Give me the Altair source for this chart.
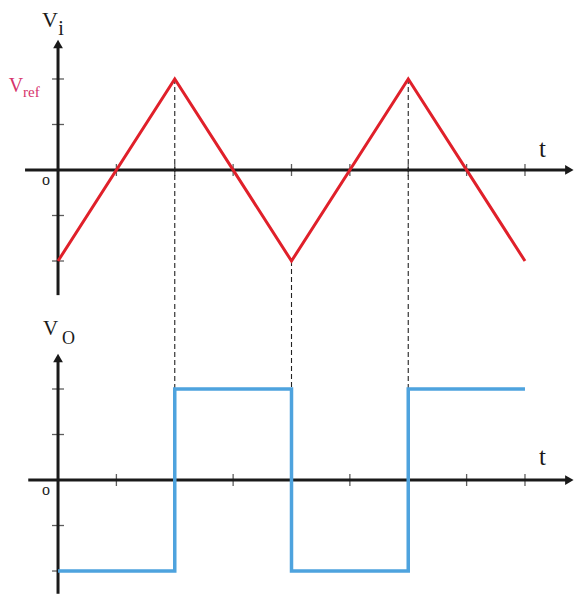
import altair as alt
import pandas as pd

# ---- data ----
t_knots = [0, 2, 4, 6, 8]
vi_knots = [-2, 2, -2, 2, -2]          # triangular input v_i
vo_levels = [-2, 2, -2, 2, 2]          # comparator output v_o (step-after)
tick_t = [1, 2, 3, 4, 5, 6, 7, 8]
tick_v = [-2, -1, 1, 2]
switch_t = [2, 4, 6]
switch_vi = [2, -2, 2]
switch_vo = [2, -2, 2]

RED = "#e0202a"
BLUE = "#4ea3de"
PINK = "#d6336c"
INK = "#1a1a1a"
SERIF = "Liberation Serif"

W = 568
XS = alt.Scale(domain=[-0.857, 8.874], nice=False, zero=False)
H_TOP = 292
H_BOT = 294


def panel(h, ydom, xaxis_from, yaxis_from, yaxis_to, xarrow_at, yarrow_at,
          wave, labels):
    ys = alt.Scale(domain=ydom, nice=False, zero=False)

    def X(f="t"):
        return alt.X(f + ":Q", scale=XS, axis=None)

    def Y(f="v"):
        return alt.Y(f + ":Q", scale=ys, axis=None)

    layers = []
    # axis lines
    xl = pd.DataFrame({"t": [xaxis_from], "t2": [xarrow_at], "v": [0]})
    layers.append(alt.Chart(xl).mark_rule(color=INK, strokeWidth=3).encode(
        x=X(), x2="t2:Q", y=Y()))
    yl = pd.DataFrame({"t": [0], "v": [yaxis_from], "v2": [yaxis_to]})
    layers.append(alt.Chart(yl).mark_rule(color=INK, strokeWidth=3).encode(
        x=X(), y=Y(), y2="v2:Q"))
    # arrow heads
    ax = pd.DataFrame({"t": [xarrow_at], "v": [0]})
    layers.append(alt.Chart(ax).mark_point(shape="triangle-right", filled=True,
                                           color=INK, size=95, opacity=1).encode(
        x=X(), y=Y()))
    ay = pd.DataFrame({"t": [0], "v": [yarrow_at]})
    layers.append(alt.Chart(ay).mark_point(shape="triangle-up", filled=True,
                                           color=INK, size=95, opacity=1).encode(
        x=X(), y=Y()))
    # ticks
    tx = pd.DataFrame({"t": tick_t, "v": [0] * len(tick_t)})
    layers.append(alt.Chart(tx).mark_tick(orient="vertical", color=INK,
                                          size=12, thickness=1.3).encode(x=X(), y=Y()))
    ty = pd.DataFrame({"t": [0] * len(tick_v), "v": tick_v})
    layers.append(alt.Chart(ty).mark_tick(orient="horizontal", color=INK,
                                          size=12, thickness=1.3).encode(x=X(), y=Y()))
    layers.extend(wave(X, Y))
    for (txt, tt, vv, fs, col, al) in labels:
        d = pd.DataFrame({"t": [tt], "v": [vv], "s": [txt]})
        layers.append(alt.Chart(d).mark_text(font=SERIF, fontSize=fs, color=col,
                                             align=al, baseline="alphabetic").encode(
            x=X(), y=Y(), text="s:N"))
    return alt.layer(*layers).properties(width=W, height=h)


def top_wave(X, Y):
    tri = pd.DataFrame({"t": t_knots, "v": vi_knots})
    dash = pd.DataFrame({"t": switch_t, "v": switch_vi})
    return [
        alt.Chart(dash).mark_rule(color="#222222", strokeWidth=1.1,
                                  strokeDash=[5, 3]).encode(
            x=X(), y=Y(), y2=alt.value(H_TOP)),
        alt.Chart(tri).mark_line(color=RED, strokeWidth=3).encode(x=X(), y=Y()),
    ]


def bottom_wave(X, Y):
    sq = pd.DataFrame({"t": t_knots, "v": vo_levels})
    dash = pd.DataFrame({"t": switch_t, "v": switch_vo})
    return [
        alt.Chart(dash).mark_rule(color="#222222", strokeWidth=1.1,
                                  strokeDash=[5, 3]).encode(
            x=X(), y=Y(), y2=alt.value(0)),
        alt.Chart(sq).mark_line(color=BLUE, strokeWidth=3.5,
                                interpolate="step-after").encode(x=X(), y=Y()),
    ]


top = panel(
    H_TOP, [-2.857, 3.56], -0.565, -2.75, 2.75, 8.76, 2.77, top_wave,
    [
        ("V", -0.14, 3.143, 22, INK, "center"),
        ("i", 0.05, 2.96, 20, INK, "center"),
        ("V", -0.72, 1.72, 20, PINK, "center"),
        ("ref", -0.6, 1.6, 15, PINK, "left"),
        ("o", -0.205, -0.33, 16, INK, "center"),
        ("t", 8.3, 0.29, 25, INK, "center"),
    ],
)

bottom = panel(
    H_BOT, [-2.549, 3.912], -0.51, -2.5, 2.6, 8.76, 2.68, bottom_wave,
    [
        ("V", -0.128, 3.19, 21, INK, "center"),
        ("O", 0.18, 2.99, 18, INK, "center"),
        ("o", -0.205, -0.33, 16, INK, "center"),
        ("t", 8.3, 0.33, 25, INK, "center"),
    ],
)

chart = alt.vconcat(top, bottom, spacing=0).properties(padding=0).configure_view(
    stroke=None)

chart.save("out.html", embed_options={"renderer": "svg", "actions": False})
